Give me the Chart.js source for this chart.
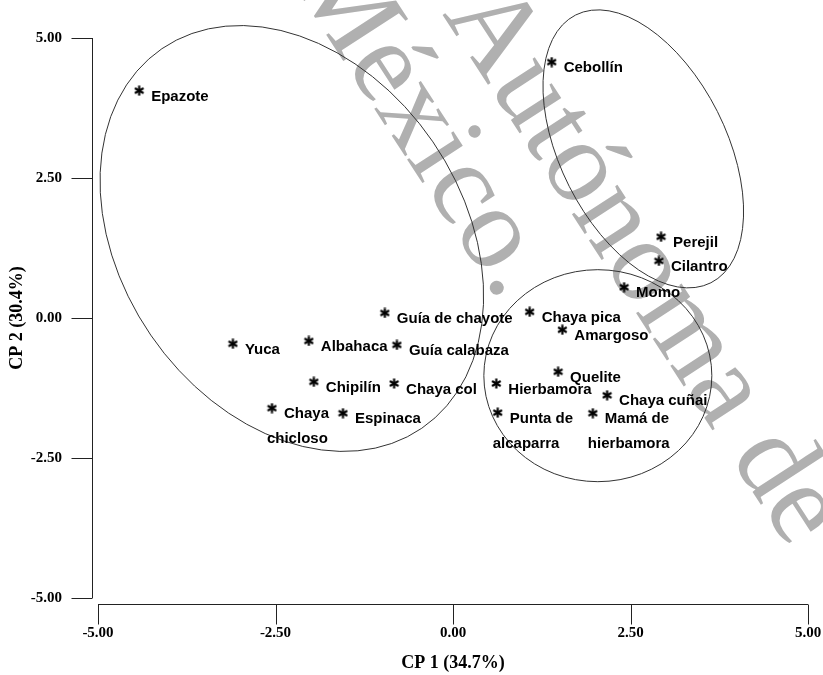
<!DOCTYPE html>
<html>
<head>
<meta charset="utf-8">
<script src="https://cdn.jsdelivr.net/npm/chart.js@4.4.1/dist/chart.umd.min.js"></script>
<style>
  html, body { margin: 0; padding: 0; background: #fff; }
  #wrap { width: 823px; height: 675px; }
</style>
</head>
<body>
<div id="wrap"><canvas id="pcaChart"></canvas></div>
<script>
// species names (second entry = second line of the label)
const species = [
  ["Epazote"], ["Cebollín"], ["Perejil"], ["Cilantro"], ["Momo"],
  ["Guía de chayote"], ["Chaya pica"], ["Amargoso"], ["Yuca"], ["Albahaca"],
  ["Guía calabaza"], ["Quelite"], ["Chipilín"], ["Chaya col"], ["Hierbamora"],
  ["Chaya cuñai"], ["Chaya", "chicloso"], ["Espinaca"], ["Punta de", "alcaparra"],
  ["Mamá de", "hierbamora"]
];
const cp1 = [-4.42, 1.39, 2.93, 2.90, 2.41, -0.96, 1.08, 1.54, -3.10, -2.03,
             -0.79, 1.48, -1.96, -0.83, 0.61, 2.17, -2.55, -1.55, 0.63, 1.97];
const cp2 = [4.06, 4.57, 1.45, 1.02, 0.55, 0.09, 0.11, -0.21, -0.46, -0.41,
             -0.48, -0.96, -1.14, -1.17, -1.17, -1.38, -1.61, -1.70, -1.69, -1.70];
const axisTicks = [-5, -2.5, 0, 2.5, 5];

// group ellipses: centre in CP units, radii / tilt in pixels
const groups = [
  { cx: -2.27, cy: 1.42, rx: 230, ry: 171, rot: 55.6 },
  { cx: 2.68, cy: 3.02, rx: 150, ry: 83, rot: 63.2 },
  { cx: 2.04, cy: -1.03, rx: 114, ry: 106, rot: 0 }
];

const labelFont = 'bold 15px "Liberation Sans", Arial, sans-serif';
const serifBold = '"Liberation Serif", "Times New Roman", serif';

function makeAsterisk(size, lw) {
  const c = document.createElement('canvas');
  c.width = c.height = size;
  const g = c.getContext('2d');
  g.strokeStyle = '#000';
  g.lineWidth = lw;
  const r = size / 2 - 0.5;
  for (let k = 0; k < 3; k++) {
    const a = Math.PI / 2 + k * Math.PI / 3;
    g.beginPath();
    g.moveTo(size / 2 + r * Math.cos(a), size / 2 + r * Math.sin(a));
    g.lineTo(size / 2 - r * Math.cos(a), size / 2 - r * Math.sin(a));
    g.stroke();
  }
  return c;
}
const star = makeAsterisk(11, 2.2);

const watermark = {
  id: 'watermark',
  beforeDatasetsDraw(chart) {
    const ctx = chart.ctx;
    const ang = 57 * Math.PI / 180;
    ctx.save();
    ctx.fillStyle = '#b0b0b0';
    ctx.font = 'normal 118px "Liberation Serif", serif';
    ctx.textBaseline = 'alphabetic';
    [["México.", 288, -24], ["Autónoma de", 442, 14]].forEach(([t, px, py]) => {
      ctx.save();
      ctx.translate(px, py);
      ctx.rotate(ang);
      ctx.fillText(t, 0, 0);
      ctx.restore();
    });
    ctx.restore();
  }
};

const ellipses = {
  id: 'ellipses',
  afterDatasetsDraw(chart) {
    const { ctx, scales: { x, y } } = chart;
    ctx.save();
    ctx.strokeStyle = '#333';
    ctx.lineWidth = 1;
    groups.forEach(e => {
      ctx.beginPath();
      ctx.ellipse(x.getPixelForValue(e.cx), y.getPixelForValue(e.cy), e.rx, e.ry,
        e.rot * Math.PI / 180, 0, Math.PI * 2);
      ctx.stroke();
    });
    ctx.restore();
  }
};

const pointLabels = {
  id: 'pointLabels',
  afterDatasetsDraw(chart) {
    const ctx = chart.ctx;
    const pts = chart.getDatasetMeta(0).data;
    ctx.save();
    ctx.fillStyle = '#000';
    ctx.font = labelFont;
    ctx.textBaseline = 'middle';
    ctx.textAlign = 'left';
    pts.forEach((p, i) => {
      const lines = species[i];
      ctx.fillText(lines[0], p.x + 12, p.y + 6);
      if (lines[1]) ctx.fillText(lines[1], p.x - 5, p.y + 31);
    });
    ctx.restore();
  }
};

const axisLines = {
  id: 'axisLines',
  afterDraw(chart) {
    const { ctx, scales: { x, y } } = chart;
    const ax = Math.round(x.getPixelForValue(-5) - 6) + 0.5;
    const ay = Math.round(y.getPixelForValue(-5) + 6) + 0.5;
    ctx.save();
    ctx.strokeStyle = '#222';
    ctx.lineWidth = 1;
    ctx.beginPath();
    ctx.moveTo(ax, y.getPixelForValue(5));
    ctx.lineTo(ax, y.getPixelForValue(-5));
    axisTicks.forEach(v => {
      const py = Math.round(y.getPixelForValue(v)) + 0.5;
      ctx.moveTo(ax - 21, py);
      ctx.lineTo(ax, py);
    });
    ctx.moveTo(x.getPixelForValue(-5), ay);
    ctx.lineTo(x.getPixelForValue(5), ay);
    axisTicks.forEach(v => {
      const px = Math.round(x.getPixelForValue(v)) + 0.5;
      ctx.moveTo(px, ay);
      ctx.lineTo(px, ay + 20);
    });
    ctx.stroke();
    ctx.restore();
  }
};

new Chart(document.getElementById('pcaChart'), {
  type: 'scatter',
  data: {
    datasets: [{
      label: 'Especies',
      data: cp1.map((v, i) => ({ x: v, y: cp2[i] })),
      pointStyle: star,
      pointRadius: 5,
      borderColor: '#000',
      backgroundColor: '#000'
    }]
  },
  options: {
    responsive: true,
    maintainAspectRatio: false,
    animation: false,
    layout: { padding: { top: 38, right: 15, left: 0, bottom: 0 } },
    plugins: {
      legend: { display: false },
      tooltip: { enabled: false }
    },
    scales: {
      x: {
        type: 'linear',
        min: -5, max: 5,
        afterBuildTicks: s => { s.ticks = axisTicks.map(v => ({ value: v })); },
        afterFit: s => { s.height = 77; s.paddingLeft = 0; s.paddingRight = 0; },
        grid: { display: false, drawTicks: false },
        border: { display: false },
        ticks: {
          padding: 26,
          color: '#000',
          font: { family: serifBold, size: 15, weight: 'bold' },
          callback: v => v.toFixed(2)
        },
        title: {
          display: true,
          text: 'CP 1 (34.7%)',
          color: '#000',
          font: { family: serifBold, size: 18, weight: 'bold' },
          padding: { top: 0, bottom: 1 }
        }
      },
      y: {
        type: 'linear',
        min: -5, max: 5,
        afterBuildTicks: s => { s.ticks = axisTicks.map(v => ({ value: v })); },
        afterFit: s => { s.width = 98; s.paddingTop = 0; s.paddingBottom = 0; },
        grid: { display: false, drawTicks: false },
        border: { display: false },
        ticks: {
          padding: 36,
          color: '#000',
          font: { family: serifBold, size: 15, weight: 'bold' },
          callback: v => v.toFixed(2)
        },
        title: {
          display: true,
          text: 'CP 2 (30.4%)',
          color: '#000',
          font: { family: serifBold, size: 18, weight: 'bold' },
          padding: { top: 7, bottom: 0 }
        }
      }
    }
  },
  plugins: [watermark, ellipses, pointLabels, axisLines]
});
</script>
</body>
</html>
